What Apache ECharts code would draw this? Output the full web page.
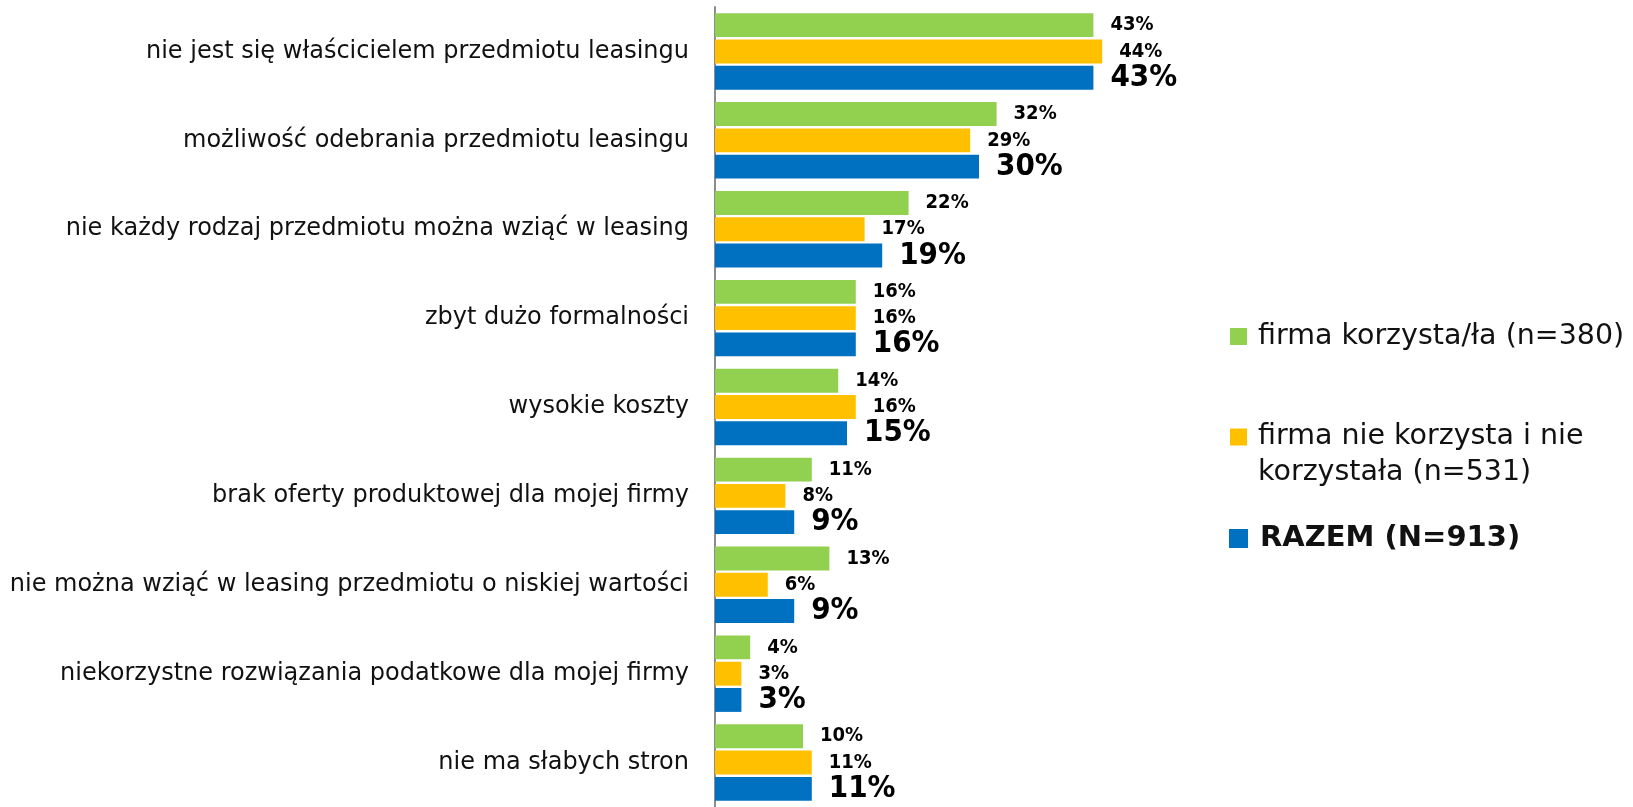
<!DOCTYPE html>
<html><head><meta charset="utf-8">
<script src="https://cdn.jsdelivr.net/npm/echarts@6/dist/echarts.min.js"></script>
<style>html,body{margin:0;padding:0;background:#fff}#c{width:1633px;height:807px}</style>
</head><body><div id="c"></div>
<script>
const categories = [
  'nie jest się właścicielem przedmiotu leasingu',
  'możliwość odebrania przedmiotu leasingu',
  'nie każdy rodzaj przedmiotu można wziąć w leasing',
  'zbyt dużo formalności',
  'wysokie koszty',
  'brak oferty produktowej dla mojej firmy',
  'nie można wziąć w leasing przedmiotu o niskiej wartości',
  'niekorzystne rozwiązania podatkowe dla mojej firmy',
  'nie ma słabych stron'
];
const seriesNames = ['firma korzysta/ła (n=380)', 'firma nie korzysta i nie korzystała (n=531)', 'RAZEM (N=913)'];
const korzysta = [43, 32, 22, 16, 14, 11, 13, 4, 10];
const nieKorzysta = [44, 29, 17, 16, 16, 8, 6, 3, 11];
const razem = [43, 30, 19, 16, 15, 9, 9, 3, 11];

const FONT = '"DejaVu Sans", sans-serif';
const FONT_NUM = '"DejaVu Sans Condensed", "DejaVu Sans", sans-serif';
const colors = ['#92D050', '#FFC000', '#0070C0'];

function barSeries(name, data, color, big) {
  return {
    name, type: 'bar', data,
    barGap: '10%', barCategoryGap: '14%',
    itemStyle: { color },
    label: {
      show: true, position: 'right', distance: 17,
      formatter: p => p.value + '%',
      fontFamily: FONT_NUM, fontWeight: 'bold',
      fontSize: big ? 31 : 20, color: '#000'
    }
  };
}

const chart = echarts.init(document.getElementById('c'), null, { renderer: 'canvas' });
chart.setOption({
  animation: false,
  grid: { left: 715, top: 7, width: 440, bottom: 0, containLabel: false },
  xAxis: { type: 'value', min: 0, max: 50, show: false },
  yAxis: {
    type: 'category', data: categories, inverse: true,
    axisLine: { show: true, lineStyle: { color: '#8c8c8c', width: 2 } },
    axisTick: { show: false },
    axisLabel: { fontFamily: FONT, fontSize: 24, color: '#111', margin: 26 },
    splitLine: { show: false }
  },
  legend: [
    { data: [seriesNames[0]], orient: 'vertical', left: 1230, top: 322, padding: 0,
      itemWidth: 17, itemHeight: 17, icon: 'rect',
      textStyle: { fontFamily: FONT, fontSize: 28.5, color: '#111', padding: [0,0,0,6] } },
    { data: [seriesNames[1]], orient: 'vertical', left: 1230, top: 383, padding: 0,
      itemWidth: 17, itemHeight: 17, icon: 'rect',
      formatter: () => '\nfirma nie korzysta i nie\nkorzystała (n=531)',
      textStyle: { fontFamily: FONT, fontSize: 28.5, lineHeight: 36, color: '#111', padding: [0,0,0,6] } },
    { data: [seriesNames[2]], orient: 'vertical', left: 1229, top: 524, padding: 0,
      itemWidth: 19, itemHeight: 19, icon: 'rect',
      textStyle: { fontFamily: FONT, fontSize: 29, fontWeight: 'bold', color: '#111', padding: [0,0,0,7] } }
  ],
  series: [
    barSeries(seriesNames[0], korzysta, colors[0], false),
    barSeries(seriesNames[1], nieKorzysta, colors[1], false),
    barSeries(seriesNames[2], razem, colors[2], true)
  ]
});
</script></body></html>
